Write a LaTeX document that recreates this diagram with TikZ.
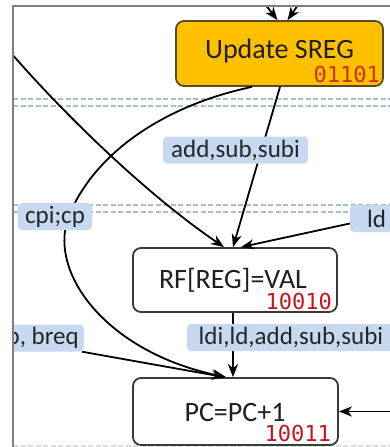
\documentclass[tikz,border=0pt]{standalone}
\usepackage{fontspec}
\setmainfont{Carlito}
\newfontfamily\codefont{DejaVu Sans Mono}
\usetikzlibrary{arrows.meta}
\definecolor{sregfill}{HTML}{FFC000}
\definecolor{sregline}{HTML}{5C4A1E}
\definecolor{boxline}{HTML}{3A3A3A}
\definecolor{labfill}{HTML}{C6D9F1}
\definecolor{sepline}{HTML}{A9BCD0}
\definecolor{codered}{HTML}{C4161C}
\definecolor{sregcode}{HTML}{D0300C}
\definecolor{framegray}{HTML}{7F7F7F}

\begin{document}
\begin{tikzpicture}[x=1pt,y=-1pt,
  statebox/.style={draw=boxline, line width=1.8pt, rounded corners=8pt, fill=white, inner sep=0pt},
  maintext/.style={font=\fontsize{28}{31}\selectfont, text=black!88, inner sep=0pt},
  codetext/.style={font=\codefont\fontsize{22}{24}\selectfont, text=codered, inner sep=0pt, anchor=base east},
  guard/.style={fill=labfill, rounded corners=4pt, font=\fontsize{25}{28}\selectfont, text=black!85,
                inner xsep=5pt, inner ysep=0pt, minimum height=27pt},
  flow/.style={line width=1.8pt, -{Stealth[length=13pt,width=10pt,inset=4pt]}},
  sep/.style={draw=sepline, line width=1.5pt, dash pattern=on 5pt off 2.5pt}
]
\useasboundingbox (0,0) rectangle (390,447);

\begin{scope}
\clip (13,6) rectangle (390,447);

% lane separators
\draw[sep] (13,99) -- (390,99);
\draw[sep] (13,106) -- (390,106);
\draw[sep] (13,205) -- (390,205);
\draw[sep] (13,212) -- (390,212);
\draw[sep, draw=sepline!50] (13,446) -- (390,446);

% states
\node[statebox, fill=sregfill, draw=sregline, minimum width=207pt, minimum height=65pt] (sreg) at (279.5,53.5) {};
\node[maintext] (sregtxt) at (279.5,51.5) {Update SREG};
\node[codetext, text=sregcode] (sregcodetxt) at (380,82) {01101};

\node[statebox, minimum width=204pt, minimum height=64pt] (rf) at (235,280) {};
\node[maintext] (rftxt) at (233,280) {RF[REG]=VAL};
\node[codetext] (rfcode) at (332,309) {10010};

\node[statebox, minimum width=205pt, minimum height=67pt] (pc) at (235.5,411.5) {};
\node[maintext] (pctxt) at (235,413) {PC=PC+1};
\node[codetext] (pccode) at (331,441) {10011};

% free ends of transitions entering from outside
\coordinate (topa) at (250,-15);
\coordinate (topb) at (312,-15);
\coordinate (leftin) at (0,40);
\coordinate (rightin) at (395,411.5);

% transitions that run underneath their guards
\draw[flow] (topa) -- ([xshift=-2pt]sreg.north);
\draw[flow] (topb) -- ([xshift=8pt]sreg.north);
\draw[flow] (leftin) .. controls (50,100) and (140,190) .. ([xshift=-11pt]rf.north);
\draw[flow] ([xshift=0.5pt]sreg.south) -- ([xshift=-2pt]rf.north);
\draw[flow] ([xshift=-27.5pt]sreg.south) .. controls (175,103) and (100,145) .. (70,213)
            .. controls (45,270) and (105,352) .. ([xshift=-9.5pt]pc.north);
\draw[flow] ([xshift=-2pt]rf.south) -- ([xshift=-2.5pt]pc.north);
\draw[flow] (rightin) -- (pc.east);

% guards
\node[guard, minimum width=145pt] (addlab) at (235.5,150) {add,sub,subi};
\node[guard, minimum width=74pt] (cpilab) at (55,216.5) {cpi;cp};
\node[guard, minimum width=53pt] (ldlab) at (376.5,218.5) {ld};
\node[guard, minimum width=208pt] (ldilab) at (291,337.5) {ldi,ld,add,sub,subi};
\node[guard, anchor=east] (brlab) at (84,338) {jmp, breq};

% transitions leaving a guard
\draw[flow] ([yshift=-5pt]ldlab.west) -- ([xshift=6pt]rf.north);
\draw[flow] ([xshift=-2pt]brlab.south east) -- ([xshift=-11pt]pc.north);
\end{scope}

% viewport frame
\draw[framegray, line width=1.5pt] (13,447) -- (13,6) -- (390,6);
\end{tikzpicture}
\end{document}
